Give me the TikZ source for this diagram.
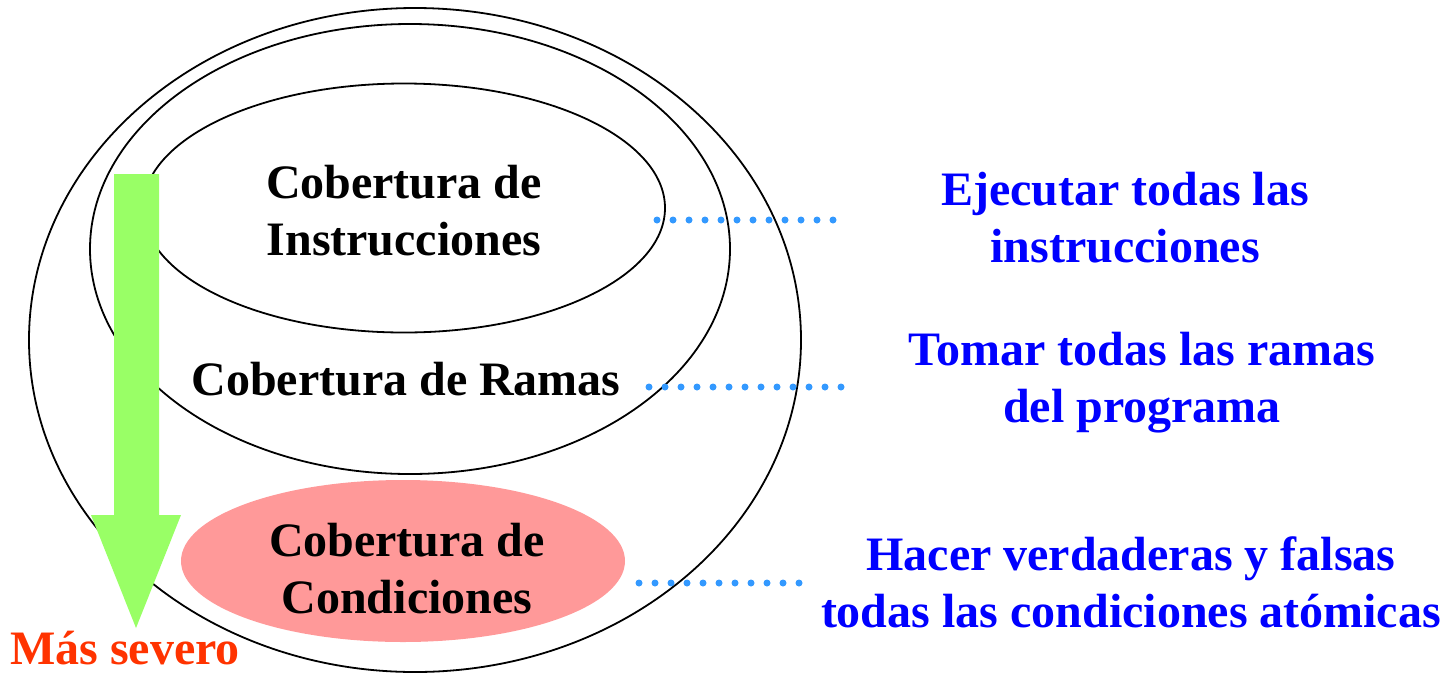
\documentclass[tikz,border=0pt]{standalone}
\usepackage{fontspec}
\setmainfont{Liberation Serif}
\usetikzlibrary{shapes.geometric}
\definecolor{pinkfill}{HTML}{FF9999}
\definecolor{greenarrow}{HTML}{99FF66}
\definecolor{orangetxt}{HTML}{FF3300}
\definecolor{bluetxt}{HTML}{0000FF}
\definecolor{dotblue}{HTML}{3399FF}
\begin{document}
\begin{tikzpicture}[x=1pt,y=-1pt,
  ring/.style={draw=black,line width=1.8pt,ellipse,inner sep=0pt,outer sep=0pt},
  lbl/.style={font=\fontsize{48}{57}\selectfont\bfseries,align=center,anchor=base,inner sep=0pt},
  desc/.style={lbl,text=bluetxt},
  dotline/.style={draw=dotblue,line width=7pt,line cap=round,dash pattern=on 0pt off 16pt}]
\useasboundingbox (0,0) rectangle (1453,673);
% nested sets
\node[ring,minimum width=772pt,minimum height=664pt] (outer) at (415,340) {};
\node[ring,minimum width=640pt,minimum height=450pt] (middle) at (410,249) {};
\node[ring,minimum width=522pt,minimum height=249pt] (inner) at (404,208) {};
\node[ellipse,fill=pinkfill,inner sep=0pt,minimum width=444pt,minimum height=162pt] (cond) at (403,561) {};
% severity arrow
\fill[greenarrow] (114,174) -- (159,174) -- (159,515) -- (181,515) -- (136,628) -- (91,515) -- (114,515) -- cycle;
% labels (base anchor = baseline of the last line)
\node[lbl] (tinst) at (404,255) {Cobertura de\\Instrucciones};
\node[lbl] (tram) at (406,395) {Cobertura de Ramas};
\node[lbl] (tcond) at (407,613) {Cobertura de\\Condiciones};
\node[lbl,text=orangetxt] (sev) at (125,664) {Más severo};
% descriptions
\node[desc] (dinst) at (1125,262) {Ejecutar todas las\\instrucciones};
\node[desc] (dram) at (1142,422) {Tomar todas las ramas\\del programa};
\node[desc] (dcond) at (1131,627) {Hacer verdaderas y falsas\\todas las condiciones atómicas};
% dotted connectors
\coordinate (a1) at (657,220); \coordinate (b1) at (834,220);
\coordinate (a2) at (649,387); \coordinate (b2) at (845,387);
\coordinate (a3) at (639,583); \coordinate (b3) at (800,583);
\draw[dotline] (a1) -- (b1);
\draw[dotline] (a2) -- (b2);
\draw[dotline] (a3) -- (b3);
\end{tikzpicture}
\end{document}
